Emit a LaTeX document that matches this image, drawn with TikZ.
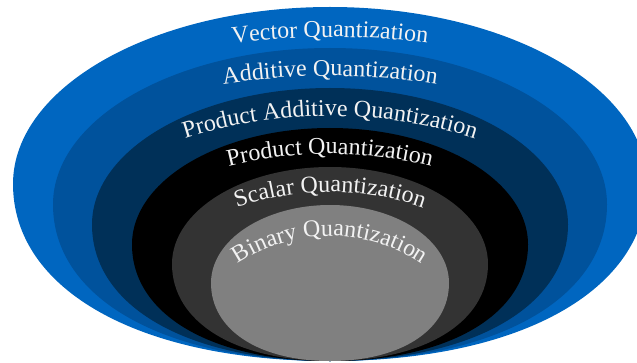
\documentclass[tikz,border=0pt]{standalone}
\usepackage{fontspec}
\setmainfont{Liberation Serif}
\usetikzlibrary{decorations.text}
\definecolor{qouter}{RGB}{0,102,192}
\definecolor{qadd}{RGB}{0,82,156}
\definecolor{qpadd}{RGB}{0,48,88}
\definecolor{qprod}{RGB}{0,0,0}
\definecolor{qscal}{RGB}{51,51,51}
\definecolor{qbin}{RGB}{128,128,128}
\definecolor{qtext}{RGB}{242,242,242}
\newcommand{\qfontsz}{\fontsize{24}{28}\selectfont}
% #1 colour, #2 half width, #3 y of widest line, #4 upper half height
\newcommand{\qblob}[4]{%
  \fill[#1] ({330-#2},#3) arc[start angle=180,end angle=0,x radius=#2,y radius=#4]
    .. controls ({330+#2},{#3-0.6*(#3-1)}) and ({330+0.6*#2},1) .. (330,1)
    .. controls ({330-0.6*#2},1) and ({330-#2},{#3-0.6*(#3-1)}) .. cycle;}
\tikzset{
  arclabel/.style={decorate,decoration={text along path,text align=center,
    text color=qtext,text={|\qfontsz|#1}}}
}
\begin{document}
\begin{tikzpicture}[x=1pt,y=1pt]
\useasboundingbox (0,0) rectangle (637,362);
\clip (0,0) rectangle (637,362);
\qblob{qouter}{317}{178}{177}
\qblob{qadd}{277}{157.5}{156.5}
\qblob{qpadd}{238}{137.5}{136.5}
\qblob{qprod}{198}{117.5}{116.5}
\qblob{qscal}{158}{98}{97}
\qblob{qbin}{119}{79}{78}
\path[arclabel={Vector Quantization}] (330,-455) ++(102:780) arc[start angle=102,end angle=78,radius=780];
\path[arclabel={Additive Quantization}] (330,-414) ++(103:700) arc[start angle=103,end angle=77,radius=700];
\path[arclabel={Product Additive Quantization}] (330,-229) ++(115:475) arc[start angle=115,end angle=65,radius=475];
\path[arclabel={Product Quantization}] (330,-214) ++(112:422) arc[start angle=112,end angle=68,radius=422];
\path[arclabel={Scalar Quantization}] (330,-110) ++(120:280) arc[start angle=120,end angle=60,radius=280];
\path[arclabel={Binary Quantization}] (330,-39) ++(140:165) arc[start angle=140,end angle=40,radius=165];
\end{tikzpicture}
\end{document}
